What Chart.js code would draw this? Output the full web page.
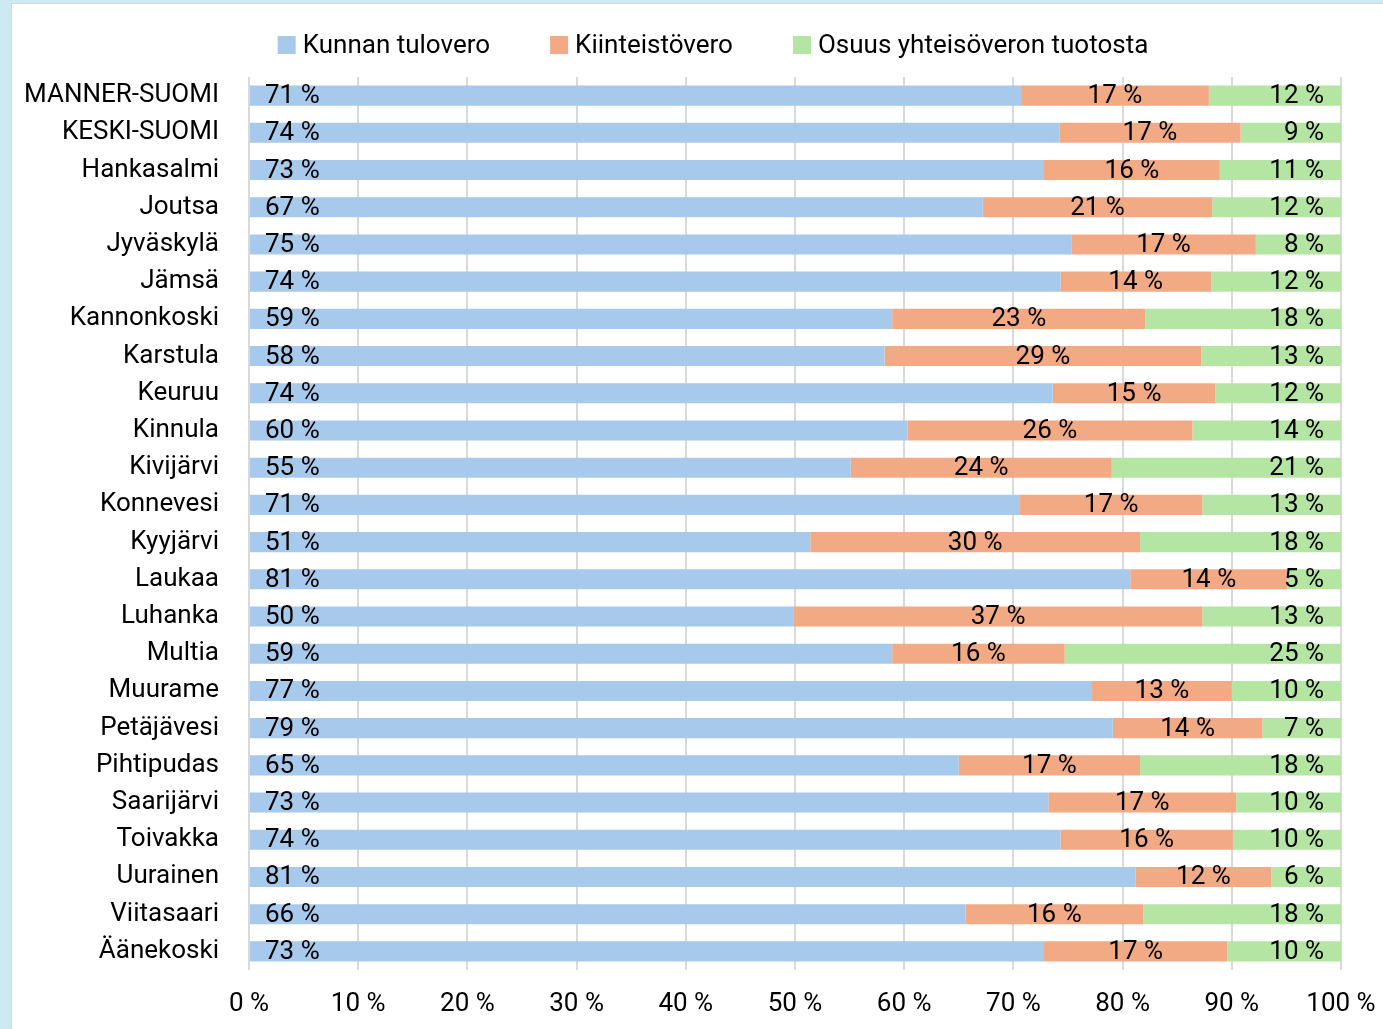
<!DOCTYPE html>
<html>
<head>
<meta charset="utf-8">
<script src="https://cdn.jsdelivr.net/npm/chart.js@4.4.1/dist/chart.umd.min.js"></script>
<style>
    html, body { margin: 0; padding: 0; }
    body { width: 1383px; height: 1029px; background: #cde9f2; position: relative; overflow: hidden; }
    .panel { position: absolute; left: 11px; top: 3px; right: 0; bottom: 0; background: #fff; border-left: 1px solid #d6d6d6; border-top: 1px solid #d6d6d6; }
    #chart { position: absolute; left: 0; top: 0; }
</style>
</head>
<body>
<div class="panel"></div>
<canvas id="chart" width="1383" height="1029"></canvas>
<script>
// Verotulojen rakenne kunnittain (%)
const categories = ['MANNER-SUOMI', 'KESKI-SUOMI', 'Hankasalmi', 'Joutsa', 'Jyväskylä', 'Jämsä', 'Kannonkoski', 'Karstula',
    'Keuruu', 'Kinnula', 'Kivijärvi', 'Konnevesi', 'Kyyjärvi', 'Laukaa', 'Luhanka', 'Multia',
    'Muurame', 'Petäjävesi', 'Pihtipudas', 'Saarijärvi', 'Toivakka', 'Uurainen', 'Viitasaari', 'Äänekoski'];

const tulovero = [70.7, 74.2, 72.8, 67.2, 75.3, 74.3, 58.9, 58.2, 73.6, 60.3, 55.1, 70.6, 51.4, 80.7, 49.9, 58.9, 77.2, 79.1, 65.0, 73.2, 74.3, 81.2, 65.6, 72.8];
const kiinteistovero = [17.2, 16.6, 16.1, 21.0, 16.9, 13.8, 23.2, 29.0, 14.9, 26.1, 23.9, 16.7, 30.2, 14.4, 37.4, 15.8, 12.8, 13.7, 16.6, 17.2, 15.8, 12.4, 16.3, 16.8];
const yhteisovero = [12.1, 9.2, 11.1, 11.8, 7.8, 11.9, 17.9, 12.8, 11.5, 13.6, 21.0, 12.7, 18.4, 4.9, 12.7, 25.3, 10.0, 7.2, 18.4, 9.6, 9.9, 6.4, 18.1, 10.4];

const seriesNames = ['Kunnan tulovero', 'Kiinteistövero', 'Osuus yhteisöveron tuotosta'];
const xTicks = [0, 10, 20, 30, 40, 50, 60, 70, 80, 90, 100];

const FONT = 'Roboto, "Liberation Sans", sans-serif';
const FONT_SIZE = 26;
const colors = ['#a6c9ec', '#f2aa84', '#b4e5a2'];

// arvot palkkien sisään: 1. sarja alkuun, 2. keskelle, 3. loppuun
const barLabels = {
    id: 'barLabels',
    afterDatasetsDraw(chart) {
        const ctx = chart.ctx;
        ctx.save();
        ctx.font = `${FONT_SIZE}px ${FONT}`;
        ctx.fillStyle = '#000';
        ctx.textBaseline = 'middle';
        chart.data.datasets.forEach((ds, i) => {
            const meta = chart.getDatasetMeta(i);
            meta.data.forEach((bar, j) => {
                const { x, base, y } = bar.getProps(['x', 'base', 'y'], true);
                const txt = Math.round(ds.data[j]) + ' %';
                if (i === 0) {
                    ctx.textAlign = 'left';
                    ctx.fillText(txt, base + 15, y + 1);
                } else if (i === 1) {
                    ctx.textAlign = 'center';
                    ctx.fillText(txt, (base + x) / 2, y + 1);
                } else {
                    ctx.textAlign = 'right';
                    ctx.fillText(txt, x - 17, y + 1);
                }
            });
        });
        ctx.restore();
    }
};

// selite ylös, Excel-tyyliin
const topLegend = {
    id: 'topLegend',
    afterDraw(chart) {
        const ctx = chart.ctx;
        const box = 18, gapText = 7, gapItem = 60, cy = 45, center = 713;
        ctx.save();
        ctx.font = `${FONT_SIZE}px ${FONT}`;
        const widths = chart.data.datasets.map(ds => ctx.measureText(ds.label).width);
        const total = widths.reduce((s, w) => s + box + gapText + w, 0) + gapItem * (widths.length - 1);
        let x = center - total / 2;
        chart.data.datasets.forEach((ds, i) => {
            ctx.fillStyle = ds.backgroundColor;
            ctx.fillRect(x, cy - box / 2, box, box);
            ctx.fillStyle = '#000';
            ctx.textAlign = 'left';
            ctx.textBaseline = 'middle';
            ctx.fillText(ds.label, x + box + gapText, cy + 1);
            x += box + gapText + widths[i] + gapItem;
        });
        ctx.restore();
    }
};

new Chart(document.getElementById('chart'), {
    type: 'bar',
    data: {
        labels: categories,
        datasets: [
            { label: seriesNames[0], data: tulovero, backgroundColor: colors[0] },
            { label: seriesNames[1], data: kiinteistovero, backgroundColor: colors[1] },
            { label: seriesNames[2], data: yhteisovero, backgroundColor: colors[2] }
        ]
    },
    options: {
        indexAxis: 'y',
        responsive: false,
        animation: false,
        barPercentage: 0.54,
        categoryPercentage: 1,
        layout: { padding: { left: 12, right: 42, top: 77, bottom: 9 } },
        plugins: { legend: { display: false }, tooltip: { enabled: false } },
        scales: {
            x: {
                stacked: true,
                min: 0, max: 100,
                afterBuildTicks: scale => { scale.ticks = xTicks.map(v => ({ value: v })); },
                ticks: {
                    callback: v => v + ' %',
                    font: { family: FONT, size: FONT_SIZE },
                    color: '#000',
                    padding: 19,
                    maxRotation: 0
                },
                grid: { color: '#d9d9d9', lineWidth: 2, drawTicks: false },
                border: { display: false },
                afterFit: scale => {
                    scale.height = 50;
                    // "100 %" saa mennä reunan yli, ei lisätilaa oikealle
                    scale.paddingLeft = 0;
                    scale.paddingRight = 0;
                }
            },
            y: {
                stacked: true,
                ticks: {
                    font: { family: FONT, size: FONT_SIZE },
                    color: '#000',
                    padding: 30,
                    autoSkip: false
                },
                grid: { display: false, drawTicks: false },
                border: { display: false },
                afterFit: scale => { scale.width = 237; }
            }
        }
    },
    plugins: [barLabels, topLegend]
});
</script>
</body>
</html>
